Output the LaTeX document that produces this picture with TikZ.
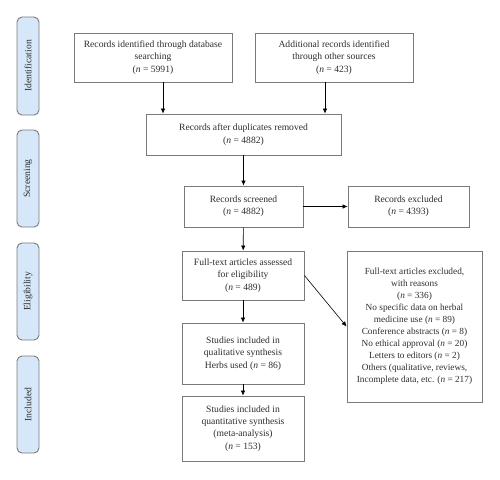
\documentclass[tikz,border=0pt]{standalone}
\usepackage{fontspec}
\setmainfont{Liberation Serif}
\usetikzlibrary{arrows.meta,calc}
\definecolor{boxgray}{HTML}{7A7A7A}
\definecolor{sidefill}{HTML}{D5E7F8}
\definecolor{txt}{HTML}{2E2E2E}
\newcommand{\nv}{\textit{n}}
\begin{document}
\begin{tikzpicture}[x=1pt,y=-1pt,
  box/.style={draw=boxgray,line width=0.9pt,fill=white,align=center,inner sep=2pt,
    font=\fontsize{9.6}{12.3}\selectfont,text=txt},
  side/.style={draw=boxgray,line width=0.9pt,fill=sidefill,rounded corners=5pt,
    minimum width=22pt,minimum height=97pt,inner sep=0pt},
  sidetext/.style={rotate=90,font=\fontsize{9.6}{11}\selectfont,text=txt},
  arr/.style={-{Latex[length=5pt,width=4.5pt]},line width=0.6pt,black}]
\useasboundingbox (0,0) rectangle (500,479);
% side labels
\node[side,minimum height=98pt] (s1) at (28,66) {};
\node[sidetext] (t1) at (s1.center) {Identification};
\node[side] (s2) at (28,178.5) {};
\node[sidetext] (t2) at (s2.center) {Screening};
\node[side] (s3) at (28,291.5) {};
\node[sidetext] (t3) at (s3.center) {Eligibility};
\node[side] (s4) at (28,404.5) {};
\node[sidetext] (t4) at (s4.center) {Included};
% boxes
\node[box,minimum width=158pt,minimum height=49pt] (b1) at (153,57.5)
  {Records identified through database\\searching\\(\nv{} = 5991)};
\node[box,minimum width=158pt,minimum height=49pt] (b2) at (334,57.5)
  {Additional records identified\\through other sources\\(\nv{} = 423)};
\node[box,minimum width=195pt,minimum height=41pt] (b3) at (243.5,134.5)
  {Records after duplicates removed\\(\nv{} = 4882)};
\node[box,minimum width=119pt,minimum height=41pt] (b4) at (243.5,206.5)
  {Records screened\\(\nv{} = 4882)};
\node[box,minimum width=121pt,minimum height=41pt] (e1) at (408.5,206.5)
  {Records excluded\\(\nv{} = 4393)};
\node[box,minimum width=122pt,minimum height=49pt] (b5) at (243,275.5)
  {Full-text articles assessed\\for eligibility\\(\nv{} = 489)};
\node[box,minimum width=135pt,minimum height=151pt,font=\fontsize{9.3}{12}\selectfont] (e2) at (414.5,326.5)
  {Full-text articles excluded,\\with reasons\\(\nv{} = 336)\\No specific data on herbal\\medicine use (\nv{} = 89)\\Conference abstracts (\nv{} = 8)\\No ethical approval (\nv{} = 20)\\Letters to editors (\nv{} = 2)\\Others (qualitative, reviews,\\Incomplete data, etc. (\nv{} = 217)};
\node[box,minimum width=122pt,minimum height=61pt] (b6) at (243,353.5)
  {Studies included in\\qualitative synthesis\\Herbs used (\nv{} = 86)};
\node[box,minimum width=122pt,minimum height=65pt] (b7) at (243,428.5)
  {Studies included in\\quantitative synthesis\\(meta-analysis)\\(\nv{} = 153)};
% connectors
\coordinate (a1) at (163,0);
\coordinate (a2) at (325,0);
\draw[arr] (b1.south -| a1) -- (b3.north -| a1);
\draw[arr] (b2.south -| a2) -- (b3.north -| a2);
\draw[arr] (b3) -- (b4);
\draw[arr] (b4) -- (e1);
\draw[arr] (b4) -- (b5);
\draw[arr] (b5.east) -- (e2.west);
\draw[arr] (b5) -- (b6);
\draw[arr] (b6) -- (b7);
\end{tikzpicture}
\end{document}
